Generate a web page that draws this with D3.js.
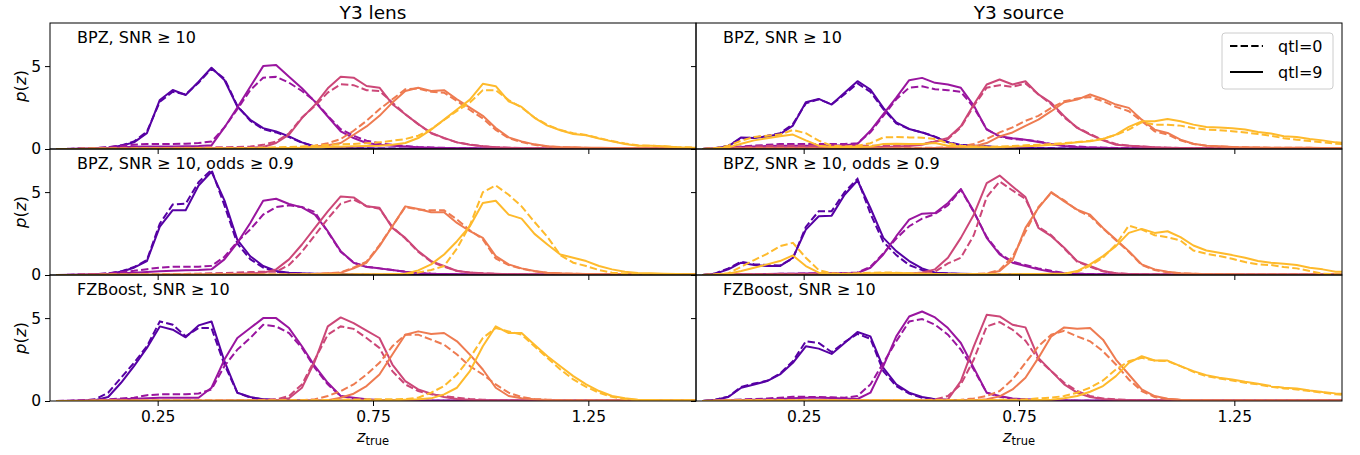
<!DOCTYPE html>
<html><head><meta charset="utf-8">
<script src="https://cdn.jsdelivr.net/npm/d3@7"></script>
<style>body{margin:0;background:#fff}text{font-family:"DejaVu Sans",sans-serif}</style>
</head><body><svg id="c" width="1360" height="455"></svg>
<script>
// ---------------- data ----------------
const zTrue = [0.015,0.045,0.075,0.105,0.135,0.165,0.195,0.225,0.255,0.285,
0.315,0.345,0.375,0.405,0.435,0.465,0.495,0.525,0.555,0.585,
0.615,0.645,0.675,0.705,0.735,0.765,0.795,0.825,0.855,0.885,
0.915,0.945,0.975,1.005,1.035,1.065,1.095,1.125,1.155,1.185,
1.215,1.245,1.275,1.305,1.335,1.365,1.395,1.425,1.455,1.485,1.515];

const columnTitles = ["Y3 lens", "Y3 source"];
const rowLabels = ["BPZ, SNR \u2265 10", "BPZ, SNR \u2265 10, odds \u2265 0.9", "FZBoost, SNR \u2265 10"];
const xTicks = [0.25, 0.75, 1.25];
const yTicks = [0, 5];
const legendLabels = ["qtl=0", "qtl=9"];

// Y3 lens, BPZ SNR>=10
const lensBpzQ0 = [
[0,0,0.02,0.04,0.1,0.22,0.45,1.05,2.85,3.45, 3.3,4.0,4.85,4.25,2.6,1.7,1.2,1.0,0.72,0.38, 0.15,0.09,0.06,0.05,0.04,0.03,0.03,0.02,0.02,0.02, 0.01,0.01,0.01,0.01,0.01,0.01,0.01,0.01,0.01,0.01, 0.01,0.01,0.01,0.01,0.01,0.01,0.01,0.01,0.01,0.01, 0.01],
[0,0.01,0.03,0.06,0.12,0.2,0.26,0.3,0.3,0.3, 0.32,0.36,0.45,1.3,2.4,3.55,4.3,4.35,4.0,3.5, 2.9,2.0,1.2,0.8,0.5,0.35,0.25,0.18,0.12,0.09, 0.07,0.05,0.04,0.03,0.03,0.02,0.02,0.02,0.02,0.01, 0.01,0.01,0.01,0.01,0.01,0.01,0.01,0.01,0.01,0.01, 0.01],
[0,0,0.01,0.02,0.02,0.03,0.04,0.05,0.06,0.07, 0.07,0.08,0.1,0.1,0.12,0.15,0.25,0.45,0.95,1.9, 2.6,3.4,3.9,3.85,3.55,3.5,2.8,2.1,1.5,0.95, 0.65,0.4,0.27,0.17,0.11,0.08,0.06,0.05,0.04,0.03, 0.03,0.03,0.02,0.02,0.02,0.02,0.02,0.02,0.02,0.02, 0.02],
[0,0,0.01,0.01,0.01,0.01,0.02,0.02,0.02,0.02, 0.03,0.03,0.03,0.03,0.04,0.04,0.05,0.06,0.08,0.12, 0.2,0.35,0.6,1.1,1.7,2.4,3.0,3.6,3.65,3.45, 3.4,2.9,2.35,1.85,1.15,0.65,0.42,0.25,0.15,0.11, 0.09,0.07,0.06,0.05,0.05,0.04,0.04,0.03,0.03,0.03, 0.03],
[0,0,0.01,0.01,0.02,0.02,0.02,0.03,0.03,0.03, 0.03,0.04,0.04,0.04,0.05,0.06,0.08,0.1,0.12,0.15, 0.2,0.24,0.28,0.3,0.35,0.4,0.5,0.6,0.8,1.2, 1.75,2.3,2.8,3.55,3.55,2.95,2.5,1.9,1.45,1.15, 0.95,0.85,0.65,0.48,0.33,0.22,0.2,0.16,0.12,0.1, 0.08]];
const lensBpzQ9 = [
[0,0,0.01,0.03,0.08,0.2,0.4,0.96,2.96,3.56, 3.26,4.06,4.9,4.16,2.56,1.76,1.26,1.06,0.76,0.4, 0.16,0.08,0.05,0.04,0.03,0.03,0.02,0.02,0.02,0.01, 0.01,0.01,0.01,0.01,0.01,0.01,0.01,0.01,0.01,0.01, 0.01,0.01,0.01,0.01,0.01,0.01,0.01,0.01,0.01,0.01, 0.01],
[0,0,0.01,0.03,0.06,0.1,0.14,0.15,0.15,0.15, 0.16,0.18,0.22,1.3,2.5,3.75,5.0,5.06,4.36,3.66, 2.86,1.96,1.06,0.66,0.36,0.26,0.2,0.15,0.1,0.08, 0.06,0.05,0.04,0.03,0.03,0.02,0.02,0.02,0.02,0.01, 0.01,0.01,0.01,0.01,0.01,0.01,0.01,0.01,0.01,0.01, 0.01],
[0,0,0.01,0.01,0.01,0.02,0.02,0.02,0.03,0.03, 0.03,0.04,0.05,0.05,0.06,0.08,0.12,0.36,0.86,1.86, 2.66,3.66,4.36,4.3,3.8,3.7,2.7,2.1,1.5,0.97, 0.67,0.4,0.26,0.16,0.1,0.07,0.05,0.04,0.03,0.03, 0.03,0.02,0.02,0.02,0.02,0.02,0.02,0.02,0.02,0.02, 0.02],
[0,0,0,0.01,0.01,0.01,0.01,0.01,0.01,0.02, 0.02,0.02,0.02,0.02,0.02,0.03,0.03,0.03,0.05,0.08, 0.15,0.22,0.36,0.86,1.36,2.0,2.8,3.5,3.7,3.5, 3.55,3.0,2.5,2.0,1.27,0.7,0.46,0.28,0.16,0.12, 0.1,0.08,0.07,0.06,0.05,0.05,0.04,0.04,0.03,0.03, 0.03],
[0,0,0,0.01,0.01,0.01,0.01,0.02,0.02,0.02, 0.02,0.02,0.02,0.03,0.03,0.03,0.04,0.05,0.06,0.08, 0.1,0.12,0.14,0.16,0.18,0.2,0.26,0.36,0.66,1.17, 1.77,2.38,2.98,3.93,3.79,2.88,2.54,1.88,1.41,1.13, 0.91,0.83,0.63,0.46,0.3,0.2,0.2,0.16,0.1,0.08, 0.06]];

// Y3 source, BPZ SNR>=10
const srcBpzQ0 = [
[0,0.06,0.2,0.65,0.7,0.8,0.95,1.5,2.75,3.0, 2.7,3.3,3.95,3.45,2.4,1.55,1.2,1.0,0.75,0.42, 0.25,0.2,0.15,0.11,0.08,0.06,0.05,0.04,0.03,0.03, 0.02,0.02,0.02,0.02,0.02,0.02,0.02,0.02,0.02,0.02, 0.02,0.02,0.02,0.02,0.02,0.02,0.02,0.02,0.02,0.02, 0.02],
[0,0.05,0.1,0.15,0.2,0.25,0.3,0.3,0.3,0.3, 0.3,0.3,0.35,1.0,2.0,3.0,3.7,3.78,3.6,3.55, 3.45,2.5,1.2,0.75,0.6,0.55,0.46,0.3,0.2,0.15, 0.1,0.08,0.06,0.05,0.04,0.04,0.03,0.03,0.03,0.03, 0.02,0.02,0.02,0.02,0.02,0.02,0.02,0.02,0.02,0.02, 0.02],
[0,0.03,0.06,0.1,0.14,0.18,0.2,0.2,0.2,0.2, 0.2,0.2,0.2,0.2,0.2,0.22,0.25,0.3,0.45,0.6, 1.3,2.6,3.7,3.85,3.75,3.95,3.3,2.7,1.9,1.3, 0.9,0.55,0.3,0.2,0.15,0.1,0.08,0.06,0.05,0.05, 0.04,0.04,0.04,0.04,0.03,0.03,0.03,0.03,0.03,0.03, 0.03],
[0,0.01,0.02,0.03,0.04,0.04,0.04,0.04,0.04,0.04, 0.04,0.04,0.05,0.05,0.05,0.06,0.06,0.07,0.08,0.1, 0.15,0.3,0.6,1.0,1.3,1.7,2.0,2.48,2.88,3.04, 3.14,2.88,2.54,2.28,1.67,1.07,0.87,0.52,0.3,0.2, 0.15,0.12,0.1,0.09,0.08,0.08,0.07,0.07,0.06,0.06, 0.06],
[0,0.05,0.2,0.5,0.72,0.8,0.87,1.15,0.95,0.5, 0.2,0.15,0.2,0.35,0.7,0.72,0.7,0.68,0.6,0.35, 0.2,0.15,0.14,0.15,0.18,0.22,0.26,0.3,0.36,0.42, 0.5,0.62,0.85,1.17,1.61,1.47,1.47,1.41,1.27,1.17, 1.13,1.07,1.0,0.9,0.8,0.65,0.56,0.48,0.4,0.32, 0.28]];
const srcBpzQ9 = [
[0,0.05,0.16,0.7,0.66,0.76,0.9,1.41,2.82,3.02, 2.68,3.39,4.09,3.59,2.48,1.61,1.21,1.0,0.73,0.4, 0.22,0.2,0.15,0.1,0.08,0.06,0.05,0.04,0.03,0.03, 0.02,0.02,0.02,0.02,0.02,0.02,0.02,0.02,0.02,0.02, 0.02,0.02,0.02,0.02,0.02,0.02,0.02,0.02,0.02,0.02, 0.02],
[0,0.03,0.08,0.12,0.15,0.18,0.2,0.2,0.2,0.2, 0.2,0.22,0.3,1.1,2.1,3.1,4.15,4.29,3.99,3.89, 3.69,2.62,1.17,0.77,0.65,0.56,0.42,0.28,0.18,0.12, 0.09,0.07,0.05,0.04,0.04,0.03,0.03,0.03,0.03,0.02, 0.02,0.02,0.02,0.02,0.02,0.02,0.02,0.02,0.02,0.02, 0.02],
[0,0.02,0.04,0.06,0.08,0.1,0.1,0.1,0.1,0.1, 0.1,0.1,0.1,0.1,0.12,0.15,0.18,0.25,0.45,0.66, 1.37,2.68,3.89,4.19,3.89,4.09,3.29,2.78,1.98,1.27, 0.87,0.52,0.26,0.2,0.15,0.1,0.08,0.06,0.05,0.05, 0.04,0.04,0.04,0.04,0.03,0.03,0.03,0.03,0.03,0.03, 0.03],
[0,0.01,0.02,0.03,0.03,0.03,0.03,0.03,0.03,0.03, 0.03,0.03,0.03,0.04,0.04,0.04,0.05,0.05,0.06,0.08, 0.1,0.16,0.36,0.76,1.0,1.4,1.77,2.28,2.82,2.98, 3.29,3.02,2.68,2.48,1.77,1.17,0.97,0.56,0.32,0.2, 0.16,0.12,0.1,0.09,0.08,0.08,0.07,0.07,0.06,0.06, 0.06],
[0,0.03,0.1,0.32,0.52,0.65,0.77,0.87,0.52,0.2, 0.12,0.12,0.12,0.15,0.3,0.32,0.3,0.3,0.36,0.2, 0.15,0.12,0.1,0.12,0.14,0.16,0.2,0.25,0.32,0.4, 0.46,0.6,0.87,1.33,1.67,1.67,1.81,1.67,1.47,1.33, 1.29,1.25,1.17,1.03,0.93,0.77,0.73,0.6,0.52,0.4, 0.35]];

// Y3 lens, BPZ SNR>=10 odds>=0.9
const lensOddsQ0 = [
[0,0,0.02,0.04,0.1,0.22,0.48,0.9,3.1,4.25, 4.3,5.6,6.35,4.2,1.9,0.95,0.45,0.2,0.12,0.08, 0.06,0.05,0.04,0.03,0.03,0.02,0.02,0.02,0.01,0.01, 0.01,0.01,0.01,0.01,0.01,0.01,0.01,0.01,0.01,0.01, 0.01,0.01,0.01,0.01,0.01,0.01,0.01,0.01,0.01,0.01, 0.01],
[0,0.01,0.03,0.05,0.1,0.18,0.25,0.35,0.45,0.5, 0.5,0.5,0.55,1.1,2.0,2.75,3.64,4.1,4.2,4.1, 3.8,2.6,1.4,0.75,0.5,0.4,0.3,0.2,0.12,0.08, 0.06,0.04,0.03,0.02,0.02,0.02,0.01,0.01,0.01,0.01, 0.01,0.01,0.01,0.01,0.01,0.01,0.01,0.01,0.01,0.01, 0.01],
[0,0,0.01,0.01,0.02,0.02,0.03,0.03,0.04,0.05, 0.06,0.08,0.1,0.12,0.15,0.18,0.2,0.2,0.6,1.4, 2.4,3.4,4.3,4.55,4.15,4.0,2.9,2.2,1.4,0.8, 0.5,0.25,0.14,0.1,0.07,0.05,0.04,0.03,0.03,0.02, 0.02,0.02,0.02,0.02,0.02,0.02,0.02,0.02,0.02,0.02, 0.02],
[0,0,0.01,0.01,0.01,0.01,0.01,0.01,0.02,0.02, 0.02,0.02,0.02,0.02,0.02,0.02,0.02,0.03,0.03,0.04, 0.06,0.1,0.16,0.45,0.8,1.8,2.95,4.1,3.95,3.9, 3.9,3.35,2.7,2.15,1.0,0.6,0.38,0.22,0.12,0.09, 0.07,0.06,0.05,0.04,0.04,0.03,0.03,0.03,0.03,0.03, 0.03],
[0,0,0,0,0.01,0.01,0.01,0.01,0.01,0.01, 0.01,0.01,0.02,0.02,0.02,0.02,0.02,0.02,0.02,0.02, 0.02,0.02,0.02,0.02,0.03,0.03,0.04,0.05,0.15,0.3, 0.54,1.6,3.0,5.0,5.4,4.84,4.14,3.2,2.3,1.2, 0.74,0.54,0.3,0.14,0.08,0.05,0.04,0.03,0.03,0.03, 0.02]];
const lensOddsQ9 = [
[0,0,0.01,0.03,0.08,0.2,0.44,0.84,2.92,3.91, 3.91,5.4,6.23,4.5,2.12,1.13,0.54,0.24,0.14,0.1, 0.08,0.06,0.05,0.04,0.03,0.02,0.02,0.02,0.02,0.01, 0.01,0.01,0.01,0.01,0.01,0.01,0.01,0.01,0.01,0.01, 0.01,0.01,0.01,0.01,0.01,0.01,0.01,0.01,0.01,0.01, 0.01],
[0,0.01,0.02,0.04,0.06,0.1,0.14,0.18,0.22,0.25, 0.28,0.3,0.34,0.94,1.94,3.14,4.48,4.6,4.28,4.08, 3.64,2.64,1.44,0.74,0.48,0.4,0.3,0.2,0.12,0.08, 0.06,0.04,0.03,0.02,0.02,0.02,0.01,0.01,0.01,0.01, 0.01,0.01,0.01,0.01,0.01,0.01,0.01,0.01,0.01,0.01, 0.01],
[0,0,0.01,0.01,0.01,0.02,0.02,0.02,0.02,0.03, 0.03,0.03,0.04,0.05,0.07,0.1,0.14,0.34,0.94,1.84, 2.84,3.84,4.74,4.68,4.14,4.05,2.84,2.24,1.44,0.84, 0.54,0.24,0.15,0.1,0.07,0.05,0.04,0.03,0.03,0.02, 0.02,0.02,0.02,0.02,0.02,0.02,0.02,0.02,0.02,0.02, 0.02],
[0,0,0,0.01,0.01,0.01,0.01,0.01,0.01,0.02, 0.02,0.02,0.02,0.02,0.02,0.02,0.02,0.02,0.03,0.04, 0.06,0.1,0.14,0.4,0.74,1.74,2.94,4.14,3.98,3.78, 3.78,3.14,2.64,2.24,1.14,0.64,0.4,0.24,0.14,0.1, 0.08,0.06,0.05,0.04,0.04,0.03,0.03,0.03,0.03,0.03, 0.03],
[0,0,0,0,0.01,0.01,0.01,0.01,0.01,0.01, 0.01,0.02,0.02,0.02,0.02,0.02,0.02,0.02,0.02,0.03, 0.03,0.03,0.03,0.04,0.04,0.05,0.06,0.08,0.28,0.64, 1.24,2.04,2.94,4.34,4.48,3.64,3.4,2.48,1.84,1.24, 1.04,0.84,0.54,0.34,0.2,0.12,0.1,0.08,0.06,0.05, 0.04]];

// Y3 source, BPZ SNR>=10 odds>=0.9
const srcOddsQ0 = [
[0,0.1,0.4,0.8,0.65,0.6,0.58,1.0,2.9,3.85, 3.85,5.0,5.8,3.7,2.0,1.2,0.6,0.3,0.12,0.08, 0.06,0.05,0.04,0.03,0.03,0.02,0.02,0.02,0.02,0.02, 0.02,0.02,0.02,0.02,0.02,0.02,0.02,0.02,0.02,0.02, 0.02,0.02,0.02,0.02,0.02,0.02,0.02,0.02,0.02,0.02, 0.02],
[0,0.02,0.03,0.04,0.05,0.06,0.07,0.08,0.09,0.1, 0.11,0.12,0.15,0.5,1.3,2.2,2.94,3.4,3.68,4.2, 5.15,3.8,2.3,1.3,0.8,0.6,0.4,0.25,0.12,0.08, 0.06,0.04,0.03,0.03,0.02,0.02,0.02,0.02,0.02,0.02, 0.02,0.02,0.02,0.02,0.02,0.02,0.02,0.02,0.02,0.02, 0.02],
[0,0.01,0.02,0.02,0.03,0.03,0.03,0.04,0.04,0.04, 0.05,0.05,0.05,0.06,0.06,0.07,0.08,0.1,0.2,0.7, 1.04,2.4,4.7,5.64,5.1,4.6,2.9,2.4,1.6,0.8, 0.5,0.22,0.1,0.06,0.04,0.03,0.03,0.02,0.02,0.02, 0.02,0.02,0.02,0.02,0.02,0.02,0.02,0.02,0.02,0.02, 0.02],
[0,0,0.01,0.01,0.01,0.01,0.01,0.01,0.01,0.02, 0.02,0.02,0.02,0.02,0.02,0.02,0.02,0.02,0.03,0.03, 0.04,0.06,0.1,0.3,1.1,2.6,4.1,4.95,4.5,3.9, 3.55,2.8,2.1,1.4,0.6,0.3,0.16,0.1,0.07,0.05, 0.04,0.04,0.03,0.03,0.03,0.03,0.03,0.03,0.03,0.03, 0.03],
[0,0.04,0.1,0.5,0.9,1.28,1.74,1.94,1.04,0.3, 0.1,0.08,0.1,0.14,0.15,0.14,0.1,0.08,0.06,0.05, 0.04,0.04,0.04,0.04,0.05,0.05,0.05,0.06,0.06,0.2, 0.55,1.05,1.84,2.98,2.74,2.4,2.28,2.08,1.48,1.28, 1.14,0.98,0.78,0.64,0.6,0.48,0.4,0.24,0.08,0.04, 0.03]];
const srcOddsQ9 = [
[0,0.08,0.34,0.74,0.6,0.54,0.54,1.04,2.74,3.54, 3.58,4.84,5.7,4.04,2.24,1.44,0.84,0.4,0.14,0.1, 0.08,0.06,0.05,0.04,0.03,0.03,0.02,0.02,0.02,0.02, 0.02,0.02,0.02,0.02,0.02,0.02,0.02,0.02,0.02,0.02, 0.02,0.02,0.02,0.02,0.02,0.02,0.02,0.02,0.02,0.02, 0.02],
[0,0.02,0.03,0.04,0.05,0.06,0.07,0.08,0.09,0.1, 0.1,0.1,0.12,0.44,1.24,2.34,3.34,3.7,3.74,4.34, 5.18,3.84,2.24,1.24,0.74,0.54,0.34,0.2,0.1,0.07, 0.05,0.04,0.03,0.03,0.02,0.02,0.02,0.02,0.02,0.02, 0.02,0.02,0.02,0.02,0.02,0.02,0.02,0.02,0.02,0.02, 0.02],
[0,0.01,0.01,0.02,0.02,0.02,0.03,0.03,0.03,0.03, 0.03,0.04,0.04,0.04,0.05,0.05,0.08,0.15,0.34,1.04, 2.24,3.64,5.54,6.0,5.34,4.7,2.84,2.34,1.64,0.84, 0.54,0.24,0.1,0.06,0.04,0.03,0.03,0.02,0.02,0.02, 0.02,0.02,0.02,0.02,0.02,0.02,0.02,0.02,0.02,0.02, 0.02],
[0,0,0.01,0.01,0.01,0.01,0.01,0.01,0.01,0.01, 0.02,0.02,0.02,0.02,0.02,0.02,0.02,0.02,0.02,0.02, 0.03,0.05,0.08,0.24,0.9,2.84,4.04,5.0,4.44,3.94, 3.64,2.84,2.14,1.44,0.64,0.34,0.2,0.1,0.07,0.05, 0.04,0.04,0.03,0.03,0.03,0.03,0.03,0.03,0.03,0.03, 0.03],
[0,0.03,0.08,0.24,0.44,0.64,0.84,1.18,0.54,0.14, 0.08,0.06,0.08,0.1,0.12,0.12,0.1,0.08,0.06,0.05, 0.04,0.04,0.04,0.05,0.05,0.06,0.06,0.07,0.08,0.24, 0.64,1.14,1.74,2.54,2.78,2.54,2.64,2.28,1.78,1.48, 1.34,1.2,1.04,0.84,0.74,0.68,0.6,0.44,0.34,0.2, 0.18]];

// Y3 lens, FZBoost SNR>=10
const lensFzbQ0 = [
[0,0,0.03,0.1,0.5,1.4,2.3,3.3,4.8,4.6, 3.9,4.4,4.4,2.2,0.5,0.2,0.1,0.06,0.04,0.03, 0.02,0.02,0.02,0.01,0.01,0.01,0.01,0.01,0.01,0.01, 0.01,0.01,0.01,0.01,0.01,0.01,0.01,0.01,0.01,0.01, 0.01,0.01,0.01,0.01,0.01,0.01,0.01,0.01,0.01,0.01, 0.01],
[0,0.02,0.04,0.07,0.1,0.15,0.2,0.35,0.4,0.4, 0.4,0.45,0.7,2.1,3.1,3.8,4.6,4.5,4.1,3.2, 2.0,1.0,0.3,0.15,0.08,0.05,0.04,0.03,0.02,0.02, 0.01,0.01,0.01,0.01,0.01,0.01,0.01,0.01,0.01,0.01, 0.01,0.01,0.01,0.01,0.01,0.01,0.01,0.01,0.01,0.01, 0.01],
[0,0,0.01,0.01,0.01,0.01,0.02,0.02,0.02,0.02, 0.02,0.03,0.03,0.03,0.04,0.05,0.08,0.1,0.3,1.0, 2.5,4.0,4.5,4.35,3.8,3.2,1.8,1.0,0.6,0.4, 0.3,0.2,0.12,0.08,0.05,0.04,0.03,0.03,0.02,0.02, 0.02,0.02,0.02,0.02,0.02,0.02,0.02,0.02,0.02,0.02, 0.02],
[0,0,0,0.01,0.01,0.01,0.01,0.01,0.01,0.01, 0.01,0.02,0.02,0.02,0.02,0.02,0.03,0.03,0.04,0.05, 0.1,0.3,0.6,1.0,1.6,2.3,3.3,4.0,4.0,3.7, 3.4,2.8,2.1,1.6,1.0,0.5,0.24,0.12,0.08,0.05, 0.04,0.04,0.03,0.03,0.03,0.03,0.03,0.03,0.03,0.03, 0.03],
[0,0,0,0.01,0.01,0.01,0.01,0.01,0.01,0.02, 0.02,0.02,0.02,0.02,0.02,0.03,0.03,0.03,0.04,0.04, 0.05,0.06,0.08,0.09,0.1,0.1,0.1,0.12,0.2,0.5, 0.9,1.6,2.6,3.8,4.4,4.2,4.0,3.3,2.6,1.9, 1.3,0.85,0.5,0.25,0.12,0.06,0.05,0.04,0.04,0.04, 0.04]];
const lensFzbQ9 = [
[0,0,0.02,0.04,0.24,1.1,2.1,3.2,4.5,4.3, 3.84,4.56,4.8,2.4,0.5,0.24,0.1,0.06,0.04,0.03, 0.02,0.02,0.01,0.01,0.01,0.01,0.01,0.01,0.01,0.01, 0.01,0.01,0.01,0.01,0.01,0.01,0.01,0.01,0.01,0.01, 0.01,0.01,0.01,0.01,0.01,0.01,0.01,0.01,0.01,0.01, 0.01],
[0,0.01,0.02,0.04,0.06,0.1,0.13,0.16,0.2,0.2, 0.2,0.2,0.8,2.5,3.8,4.4,5.0,5.0,4.4,3.3, 2.1,1.1,0.3,0.2,0.1,0.06,0.04,0.03,0.02,0.02, 0.01,0.01,0.01,0.01,0.01,0.01,0.01,0.01,0.01,0.01, 0.01,0.01,0.01,0.01,0.01,0.01,0.01,0.01,0.01,0.01, 0.01],
[0,0,0.01,0.01,0.01,0.01,0.02,0.02,0.02,0.02, 0.02,0.02,0.02,0.03,0.03,0.03,0.04,0.04,0.16,0.8, 2.4,4.5,5.04,4.7,4.24,3.8,2.2,1.2,0.7,0.44, 0.24,0.12,0.08,0.05,0.04,0.03,0.03,0.02,0.02,0.02, 0.02,0.02,0.02,0.02,0.02,0.02,0.02,0.02,0.02,0.02, 0.02],
[0,0,0,0.01,0.01,0.01,0.01,0.01,0.01,0.01, 0.01,0.01,0.02,0.02,0.02,0.02,0.02,0.02,0.02,0.03, 0.03,0.04,0.2,0.44,0.9,1.6,2.8,4.0,4.2,4.04, 4.1,3.6,2.8,1.9,0.8,0.3,0.16,0.1,0.06,0.04, 0.03,0.03,0.03,0.03,0.03,0.03,0.03,0.03,0.03,0.03, 0.03],
[0,0,0,0.01,0.01,0.01,0.01,0.01,0.01,0.01, 0.01,0.01,0.02,0.02,0.02,0.02,0.02,0.02,0.02,0.02, 0.02,0.02,0.03,0.03,0.03,0.04,0.05,0.07,0.1,0.16, 0.4,0.8,1.8,3.3,4.5,4.1,4.1,3.4,2.7,2.1, 1.5,1.0,0.6,0.3,0.16,0.08,0.06,0.05,0.05,0.05, 0.05]];

// Y3 source, FZBoost SNR>=10
const srcFzbQ0 = [
[0,0.08,0.26,0.85,1.05,1.22,1.65,2.4,3.6,3.5, 2.95,3.55,4.05,3.75,1.8,0.9,0.45,0.2,0.1,0.06, 0.04,0.03,0.02,0.02,0.02,0.02,0.02,0.02,0.02,0.02, 0.02,0.02,0.02,0.02,0.02,0.02,0.02,0.02,0.02,0.02, 0.02,0.02,0.02,0.02,0.02,0.02,0.02,0.02,0.02,0.02, 0.02],
[0,0.03,0.06,0.09,0.12,0.15,0.2,0.26,0.25,0.24, 0.22,0.2,0.3,1.0,2.3,3.6,4.8,4.94,4.6,4.0, 3.1,1.9,0.5,0.25,0.12,0.08,0.05,0.04,0.03,0.02, 0.02,0.02,0.02,0.02,0.02,0.02,0.02,0.02,0.02,0.02, 0.02,0.02,0.02,0.02,0.02,0.02,0.02,0.02,0.02,0.02, 0.02],
[0,0.01,0.01,0.02,0.02,0.02,0.02,0.03,0.03,0.03, 0.03,0.03,0.03,0.03,0.04,0.04,0.04,0.05,0.1,0.3, 1.0,2.5,4.5,4.76,4.3,3.64,2.5,1.8,1.1,0.6, 0.3,0.15,0.1,0.06,0.04,0.03,0.03,0.03,0.03,0.03, 0.03,0.03,0.03,0.03,0.03,0.03,0.03,0.03,0.03,0.03, 0.03],
[0,0,0.01,0.01,0.01,0.01,0.01,0.01,0.01,0.02, 0.02,0.02,0.02,0.02,0.02,0.02,0.03,0.03,0.03,0.04, 0.08,0.15,0.3,0.6,1.3,2.3,3.3,4.0,4.24,3.9, 3.6,3.0,2.2,1.3,0.6,0.24,0.12,0.06,0.05,0.04, 0.03,0.03,0.03,0.03,0.03,0.03,0.03,0.03,0.03,0.03, 0.03],
[0,0.02,0.03,0.03,0.04,0.04,0.04,0.04,0.04,0.04, 0.04,0.04,0.04,0.04,0.04,0.04,0.04,0.04,0.05,0.05, 0.05,0.05,0.06,0.07,0.08,0.1,0.16,0.2,0.3,0.5, 0.8,1.24,1.9,2.4,2.6,2.44,2.4,2.1,1.76,1.5, 1.36,1.24,1.1,1.0,0.86,0.76,0.7,0.6,0.5,0.4, 0.36]];
const srcFzbQ9 = [
[0,0.08,0.24,0.8,1.0,1.2,1.6,2.3,3.3,3.16, 2.84,3.5,4.16,3.9,2.0,1.0,0.5,0.24,0.1,0.06, 0.04,0.03,0.02,0.02,0.02,0.02,0.02,0.02,0.02,0.02, 0.02,0.02,0.02,0.02,0.02,0.02,0.02,0.02,0.02,0.02, 0.02,0.02,0.02,0.02,0.02,0.02,0.02,0.02,0.02,0.02, 0.02],
[0,0.02,0.04,0.06,0.08,0.1,0.12,0.16,0.2,0.2, 0.18,0.15,0.12,0.5,2.1,3.9,5.1,5.4,5.04,4.4, 3.5,2.0,0.5,0.3,0.15,0.1,0.06,0.04,0.03,0.02, 0.02,0.02,0.02,0.02,0.02,0.02,0.02,0.02,0.02,0.02, 0.02,0.02,0.02,0.02,0.02,0.02,0.02,0.02,0.02,0.02, 0.02],
[0,0.01,0.01,0.01,0.02,0.02,0.02,0.02,0.02,0.03, 0.03,0.03,0.03,0.03,0.03,0.03,0.03,0.03,0.04,0.1, 1.2,3.3,5.2,5.1,4.6,4.44,2.6,1.8,1.0,0.5, 0.24,0.12,0.08,0.05,0.04,0.03,0.03,0.03,0.03,0.03, 0.03,0.03,0.03,0.03,0.03,0.03,0.03,0.03,0.03,0.03, 0.03],
[0,0,0.01,0.01,0.01,0.01,0.01,0.01,0.01,0.01, 0.02,0.02,0.02,0.02,0.02,0.02,0.02,0.02,0.02,0.03, 0.03,0.04,0.1,0.28,0.7,1.4,2.6,3.9,4.44,4.36, 4.4,3.7,2.5,1.6,0.7,0.3,0.14,0.08,0.05,0.04, 0.03,0.03,0.03,0.03,0.03,0.03,0.03,0.03,0.03,0.03, 0.03],
[0,0.02,0.02,0.03,0.03,0.03,0.03,0.03,0.03,0.03, 0.03,0.03,0.03,0.03,0.03,0.03,0.03,0.03,0.03,0.03, 0.03,0.03,0.04,0.04,0.05,0.05,0.06,0.08,0.16,0.3, 0.56,0.9,1.5,2.3,2.7,2.44,2.44,2.1,1.8,1.56, 1.4,1.3,1.16,1.04,0.9,0.8,0.76,0.64,0.54,0.46, 0.42]];

// ---------------- drawing ----------------
const binColors = [0.15, 0.325, 0.5, 0.675, 0.85].map(t => d3.interpolatePlasma(t));
const panels = [
  {row:0,col:0,q0:lensBpzQ0,q9:lensBpzQ9},{row:0,col:1,q0:srcBpzQ0,q9:srcBpzQ9},
  {row:1,col:0,q0:lensOddsQ0,q9:lensOddsQ9},{row:1,col:1,q0:srcOddsQ0,q9:srcOddsQ9},
  {row:2,col:0,q0:lensFzbQ0,q9:lensFzbQ9},{row:2,col:1,q0:srcFzbQ0,q9:srcFzbQ9}];

panels.forEach(p => [p.q0, p.q9].forEach(s => s.forEach(a => {
  if (a.length !== zTrue.length) console.error("length mismatch", p.row, p.col, a.length);
})));

const svg = d3.select("#c");
const colX = [50, 696], rowY = [23, 149, 275], PW = 646, PH = 126;
const x = d3.scaleLinear().domain([0, 1.5]).range([0, PW]);
const y = d3.scaleLinear().domain([0, 7.6]).range([PH, 0]);
const line = d3.line().x((d, i) => x(zTrue[i])).y(d => y(d));

panels.forEach((p, pi) => {
  const g = svg.append("g").attr("transform", `translate(${colX[p.col]},${rowY[p.row]})`);
  g.append("clipPath").attr("id", "clip" + pi).append("rect").attr("width", PW).attr("height", PH);
  const lg = g.append("g").attr("clip-path", `url(#clip${pi})`);
  for (let b = 0; b < 5; b++) {
    lg.append("path").datum(p.q0[b]).attr("d", line).attr("fill", "none")
      .attr("stroke", binColors[b]).attr("stroke-width", 2).attr("stroke-dasharray", "7.4,3.2");
    lg.append("path").datum(p.q9[b]).attr("d", line).attr("fill", "none")
      .attr("stroke", binColors[b]).attr("stroke-width", 2).attr("stroke-linejoin", "round");
  }
  // axes
  const xa = d3.axisBottom(x).tickValues(xTicks).tickSize(5).tickPadding(5)
    .tickFormat(p.row === 2 ? d3.format(".2f") : () => "");
  const xg = g.append("g").attr("transform", `translate(0,${PH})`).call(xa);
  const ya = d3.axisLeft(y).tickValues(yTicks).tickSize(5).tickPadding(4)
    .tickFormat(p.col === 0 ? d3.format("d") : () => "");
  const yg = g.append("g").call(ya);
  [xg, yg].forEach(a => {
    a.select(".domain").remove();
    a.selectAll("text").attr("font-size", 15.5).attr("font-family", "DejaVu Sans").attr("fill", "#000");
    a.selectAll("line").attr("stroke", "#000");
  });
  g.append("rect").attr("width", PW).attr("height", PH).attr("fill", "none")
    .attr("stroke", "#000").attr("stroke-width", 1);
  g.append("text").attr("x", 27).attr("y", 20).attr("font-size", 16).text(rowLabels[p.row]);
  if (p.col === 0) {
    const yl = g.append("text").attr("transform", `translate(-24,${PH/2}) rotate(-90)`)
      .attr("text-anchor", "middle").attr("font-size", 16.5);
    yl.append("tspan").attr("font-style", "italic").text("p");
    yl.append("tspan").text("(");
    yl.append("tspan").attr("font-style", "italic").text("z");
    yl.append("tspan").text(")");
  }
});

// column titles & x labels
columnTitles.forEach((t, i) => {
  svg.append("text").attr("x", colX[i] + PW/2).attr("y", 19).attr("text-anchor", "middle")
    .attr("font-size", 18.5).text(t);
  const xl = svg.append("text").attr("x", colX[i] + PW/2).attr("y", 442).attr("text-anchor", "middle")
    .attr("font-size", 16.5);
  xl.append("tspan").attr("font-style", "italic").text("z");
  xl.append("tspan").attr("font-size", 11.5).attr("dy", 3).text("true");
});

// legend
const leg = svg.append("g").attr("transform", "translate(1222,33)");
leg.append("rect").attr("width", 111).attr("height", 56).attr("rx", 3).attr("fill", "#fff")
  .attr("fill-opacity", 0.8).attr("stroke", "#cccccc").attr("stroke-width", 1);
legendLabels.forEach((l, i) => {
  const yy = 13 + i * 26;
  leg.append("line").attr("x1", 8).attr("x2", 41).attr("y1", yy).attr("y2", yy)
    .attr("stroke", "#000").attr("stroke-width", 2).attr("stroke-dasharray", i === 0 ? "7.4,3.2" : null);
  leg.append("text").attr("x", 56).attr("y", yy + 6).attr("font-size", 16).text(l);
});
</script></body></html>
